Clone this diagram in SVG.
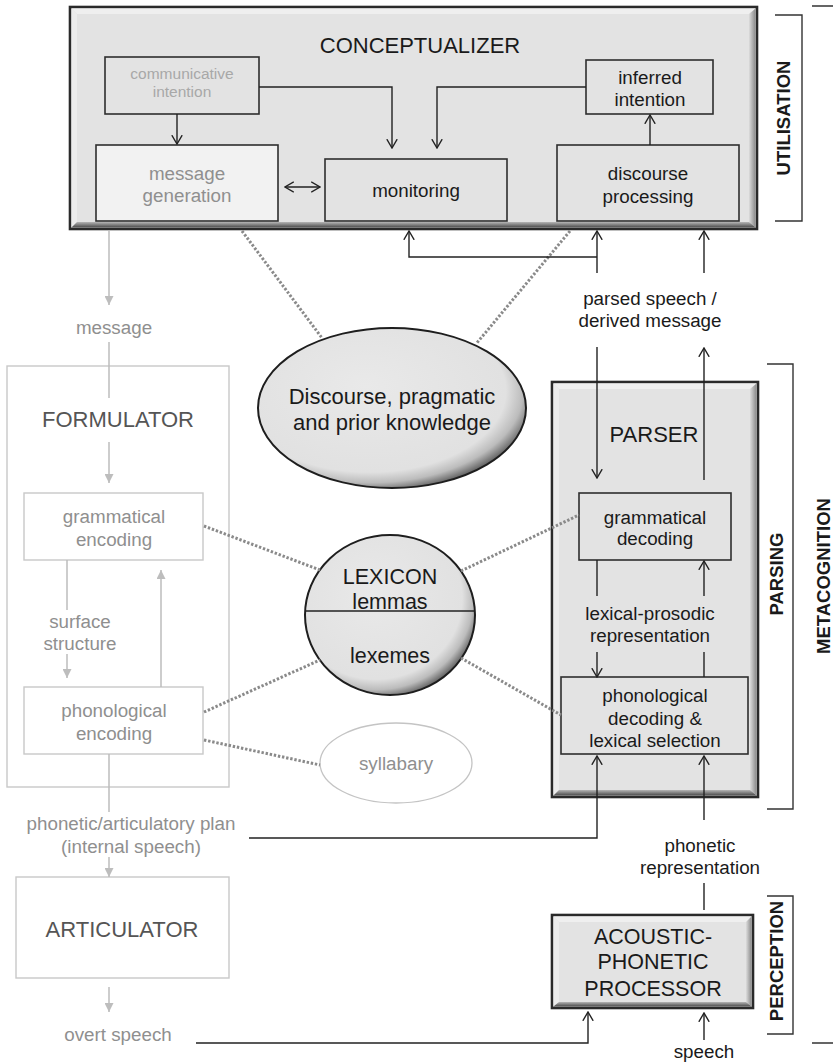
<svg xmlns="http://www.w3.org/2000/svg" width="833" height="1064" viewBox="0 0 833 1064">
<defs>
<style>
text{font-family:"Liberation Sans",Arial,sans-serif;}
.t{font-size:18.8px;fill:#1a1a1a;text-anchor:middle;}
.tt{font-size:22px;fill:#1a1a1a;text-anchor:middle;}
.g{font-size:18.8px;fill:#8f8f8f;text-anchor:middle;}
.gt{font-size:22px;fill:#555;text-anchor:middle;}
.b{font-size:18.5px;font-weight:bold;fill:#1a1a1a;text-anchor:middle;}
.box{fill:#e3e3e3;stroke:#2e2e2e;stroke-width:1.6;}
.gbox{fill:#fff;stroke:#c8c8c8;stroke-width:1.4;}
.ln{fill:none;stroke:#222;stroke-width:1.4;}
.gl{fill:none;stroke:#bdbdbd;stroke-width:1.5;}
.dot{fill:none;stroke:#8a8a8a;stroke-width:3;stroke-dasharray:2.4 1.8;}
.br{fill:none;stroke:#333;stroke-width:1.4;}
</style>
<marker id="ah" viewBox="0 0 10 12" refX="9.3" refY="6" markerWidth="10" markerHeight="12" markerUnits="userSpaceOnUse" orient="auto-start-reverse">
<path d="M0.5,0.8 L9.3,6 L0.5,11.2" fill="none" stroke="#222" stroke-width="1.4"/>
</marker>
<marker id="gh" viewBox="0 0 10 10" refX="10" refY="5" markerWidth="9" markerHeight="9" markerUnits="userSpaceOnUse" orient="auto">
<path d="M0,0 L10,5 L0,10 Z" fill="#bdbdbd"/>
</marker>
<linearGradient id="bR" x1="0" y1="0" x2="1" y2="0"><stop offset="0" stop-color="#dcdcdc"/><stop offset="1" stop-color="#8a8a8a"/></linearGradient>
<linearGradient id="bB" x1="0" y1="0" x2="0" y2="1"><stop offset="0" stop-color="#b5b5b5"/><stop offset="1" stop-color="#4a4a4a"/></linearGradient>
<radialGradient id="sh" cx="0.42" cy="0.4" r="0.62" fx="0.4" fy="0.36">
<stop offset="0" stop-color="#e9e9e9"/><stop offset="0.82" stop-color="#e1e1e1"/><stop offset="0.92" stop-color="#bcbcbc"/><stop offset="1" stop-color="#6a6a6a"/>
</radialGradient>
</defs>
<rect width="833" height="1064" fill="#fff"/>

<!-- CONCEPTUALIZER -->
<g id="conceptualizer">
<rect x="70" y="7" width="687" height="222" fill="#e3e3e3" stroke="#2a2a2a" stroke-width="2.6"/>
<polygon points="71.5,8.5 755.5,8.5 749,14 77,14" fill="#efefef"/>
<polygon points="71.5,8.5 77,14 77,222 71.5,227.5" fill="#ececec"/>
<polygon points="749,14 755.5,8.5 755.5,227.5 749,222" fill="url(#bR)"/>
<polygon points="77,222 749,222 755.5,227.5 71.5,227.5" fill="url(#bB)"/>
<text class="tt" x="420" y="53">CONCEPTUALIZER</text>
</g>
<g id="communicative-intention">
<rect class="box" x="105" y="57" width="154" height="57"/>
<text x="182" y="79" style="font-size:15.5px;fill:#a8a8a8;text-anchor:middle">communicative</text>
<text x="182" y="97" style="font-size:15.5px;fill:#a8a8a8;text-anchor:middle">intention</text>
</g>
<g id="message-generation">
<rect x="96" y="145" width="182" height="76" fill="#f2f2f2" stroke="#2e2e2e" stroke-width="1.6"/>
<text class="g" x="187" y="180">message</text>
<text class="g" x="187" y="202">generation</text>
</g>
<g id="monitoring">
<rect class="box" x="325" y="159" width="182" height="62"/>
<text class="t" x="416" y="197">monitoring</text>
</g>
<g id="inferred-intention">
<rect class="box" x="586" y="60" width="127" height="54"/>
<text class="t" x="650" y="84">inferred</text>
<text class="t" x="650" y="106">intention</text>
</g>
<g id="discourse-processing">
<rect class="box" x="557" y="145" width="182" height="76"/>
<text class="t" x="648" y="180">discourse</text>
<text class="t" x="648" y="203">processing</text>
</g>

<!-- knowledge stores -->
<g id="discourse-knowledge">
<ellipse cx="392" cy="408" rx="134" ry="80" fill="url(#sh)" stroke="#1e1e1e" stroke-width="2"/>
<text class="tt" x="392" y="404">Discourse, pragmatic</text>
<text class="tt" x="392" y="430">and prior knowledge</text>
</g>
<g id="lexicon">
<ellipse cx="390" cy="615" rx="85" ry="80" fill="url(#sh)" stroke="#1e1e1e" stroke-width="2"/>
<line x1="305.3" y1="611" x2="474.7" y2="611" stroke="#222" stroke-width="1.6"/>
<text x="390" y="584" style="font-size:21.5px;fill:#1a1a1a;text-anchor:middle">LEXICON</text>
<text x="390" y="609" style="font-size:21.5px;fill:#1a1a1a;text-anchor:middle">lemmas</text>
<text x="390" y="663" style="font-size:21.5px;fill:#1a1a1a;text-anchor:middle">lexemes</text>
</g>
<g id="syllabary">
<ellipse cx="396" cy="763" rx="76" ry="40" fill="#fff" stroke="#c4c4c4" stroke-width="1.3"/>
<text class="g" x="396" y="770">syllabary</text>
</g>

<!-- FORMULATOR side -->
<g id="formulator">
<rect class="gbox" x="7" y="366" width="222" height="421"/>
<text class="gt" x="118" y="427">FORMULATOR</text>
</g>
<g id="grammatical-encoding">
<rect class="gbox" x="24" y="493" width="179" height="67"/>
<text class="g" x="114" y="523">grammatical</text>
<text class="g" x="114" y="546">encoding</text>
</g>
<g id="phonological-encoding">
<rect class="gbox" x="24" y="687" width="179" height="67"/>
<text class="g" x="114" y="717">phonological</text>
<text class="g" x="114" y="740">encoding</text>
</g>
<g id="articulator">
<rect class="gbox" x="16" y="877" width="213" height="101"/>
<text class="gt" x="122" y="937">ARTICULATOR</text>
</g>

<!-- PARSER side -->
<g id="parser">
<rect x="552" y="382" width="206" height="415" fill="#e3e3e3" stroke="#2a2a2a" stroke-width="2.6"/>
<polygon points="553.5,383.5 756.5,383.5 750,389 559,389" fill="#efefef"/>
<polygon points="553.5,383.5 559,389 559,790 553.5,795.5" fill="#ececec"/>
<polygon points="750,389 756.5,383.5 756.5,795.5 750,790" fill="url(#bR)"/>
<polygon points="559,790 750,790 756.5,795.5 553.5,795.5" fill="url(#bB)"/>
<text class="tt" x="654" y="442">PARSER</text>
</g>
<g id="grammatical-decoding">
<rect class="box" x="579" y="493" width="152" height="67"/>
<text class="t" x="655" y="524">grammatical</text>
<text class="t" x="655" y="545">decoding</text>
</g>
<g id="phonological-decoding">
<rect class="box" x="561" y="677" width="187" height="77"/>
<text class="t" x="655" y="702">phonological</text>
<text class="t" x="655" y="725">decoding &amp;</text>
<text class="t" x="655" y="747">lexical selection</text>
</g>
<g id="acoustic-phonetic-processor">
<rect x="552" y="915" width="201" height="93" fill="#e3e3e3" stroke="#2a2a2a" stroke-width="2.6"/>
<polygon points="553.5,916.5 751.5,916.5 746,922 559,922" fill="#efefef"/>
<polygon points="553.5,916.5 559,922 559,1002 553.5,1006.5" fill="#ececec"/>
<polygon points="746,922 751.5,916.5 751.5,1006.5 746,1002" fill="url(#bR)"/>
<polygon points="559,1002 746,1002 751.5,1006.5 553.5,1006.5" fill="url(#bB)"/>
<text x="653" y="944" style="font-size:21.5px;fill:#1a1a1a;text-anchor:middle">ACOUSTIC-</text>
<text x="653" y="969" style="font-size:21.5px;fill:#1a1a1a;text-anchor:middle">PHONETIC</text>
<text x="653" y="996" style="font-size:21.5px;fill:#1a1a1a;text-anchor:middle">PROCESSOR</text>
</g>

<!-- connectors -->
<g id="connectors">
<!-- dotted associations -->
<line class="dot" x1="242" y1="231" x2="322" y2="338"/>
<line class="dot" x1="570" y1="231" x2="476" y2="344"/>
<line class="dot" x1="204" y1="526" x2="320" y2="570"/>
<line class="dot" x1="204" y1="712" x2="320" y2="660"/>
<line class="dot" x1="204" y1="740" x2="320" y2="765"/>
<line class="dot" x1="461" y1="571" x2="579" y2="515"/>
<line class="dot" x1="461" y1="658" x2="561" y2="715"/>

<!-- conceptualizer internal -->
<line class="ln" x1="177" y1="114" x2="177" y2="144" marker-end="url(#ah)"/>
<line class="ln" x1="285" y1="187" x2="320" y2="187" marker-start="url(#ah)" marker-end="url(#ah)"/>
<polyline class="ln" points="259,87 392,87 392,148" marker-end="url(#ah)"/>
<polyline class="ln" points="586,87 437,87 437,148" marker-end="url(#ah)"/>
<line class="ln" x1="650" y1="145" x2="650" y2="115" marker-end="url(#ah)"/>

<!-- parsed speech to conceptualizer -->
<line class="ln" x1="597" y1="273" x2="597" y2="231" marker-end="url(#ah)"/>
<polyline class="ln" points="597,257 409,257 409,231" marker-end="url(#ah)"/>
<line class="ln" x1="704" y1="273" x2="704" y2="231" marker-end="url(#ah)"/>
<text class="t" x="650" y="305">parsed speech /</text>
<text class="t" x="650" y="327">derived message</text>
<line class="ln" x1="597" y1="347" x2="597" y2="478" marker-end="url(#ah)"/>
<line class="ln" x1="704" y1="480" x2="704" y2="348" marker-end="url(#ah)"/>

<!-- inside parser -->
<line class="ln" x1="597" y1="560" x2="597" y2="596"/>
<line class="ln" x1="597" y1="652" x2="597" y2="677" marker-end="url(#ah)"/>
<line class="ln" x1="704" y1="677" x2="704" y2="652"/>
<line class="ln" x1="704" y1="596" x2="704" y2="561" marker-end="url(#ah)"/>
<text class="t" x="650" y="620">lexical-prosodic</text>
<text class="t" x="650" y="642">representation</text>

<!-- into phonological decoding -->
<polyline class="ln" points="249,838 597,838 597,756" marker-end="url(#ah)"/>
<line class="ln" x1="704" y1="820" x2="704" y2="756" marker-end="url(#ah)"/>
<text class="t" x="700" y="852">phonetic</text>
<text class="t" x="700" y="874">representation</text>
<line class="ln" x1="704" y1="883" x2="704" y2="910"/>

<!-- into acoustic processor -->
<polyline class="ln" points="196,1043 588,1043 588,1012" marker-end="url(#ah)"/>
<line class="ln" x1="704" y1="1040" x2="704" y2="1013" marker-end="url(#ah)"/>
<text class="t" x="704" y="1058">speech</text>

<!-- formulator side (grey) -->
<line class="gl" x1="109" y1="230" x2="109" y2="305" marker-end="url(#gh)"/>
<text class="g" x="114" y="334">message</text>
<line class="gl" x1="109" y1="342" x2="109" y2="398"/>
<line class="gl" x1="109" y1="442" x2="109" y2="483" marker-end="url(#gh)"/>
<line class="gl" x1="67" y1="560" x2="67" y2="610"/>
<text class="g" x="80" y="628">surface</text>
<text class="g" x="80" y="650">structure</text>
<line class="gl" x1="67" y1="654" x2="67" y2="678" marker-end="url(#gh)"/>
<line class="gl" x1="161" y1="687" x2="161" y2="570" marker-end="url(#gh)"/>
<line class="gl" x1="109" y1="754" x2="109" y2="812"/>
<text class="g" x="131" y="830">phonetic/articulatory plan</text>
<text class="g" x="131" y="853">(internal speech)</text>
<line class="gl" x1="109" y1="857" x2="109" y2="877" marker-end="url(#gh)"/>
<line class="gl" x1="109" y1="987" x2="109" y2="1012" marker-end="url(#gh)"/>
<text class="g" x="118" y="1041">overt speech</text>
</g>

<!-- brackets -->
<g id="stages">
<path class="br" d="M775,15 H802 V221 H775"/>
<text class="b" transform="translate(790,118) rotate(-90)">UTILISATION</text>
<path class="br" d="M767,364 H793 V809 H767"/>
<text class="b" transform="translate(783,574) rotate(-90)">PARSING</text>
<path class="br" d="M767,896 H793 V1034 H767"/>
<text class="b" transform="translate(783,961) rotate(-90)">PERCEPTION</text>
<path class="br" d="M812,6 H833 M812,1043 H833"/>
<text class="b" transform="translate(830,576) rotate(-90)">METACOGNITION</text>
</g>
</svg>
